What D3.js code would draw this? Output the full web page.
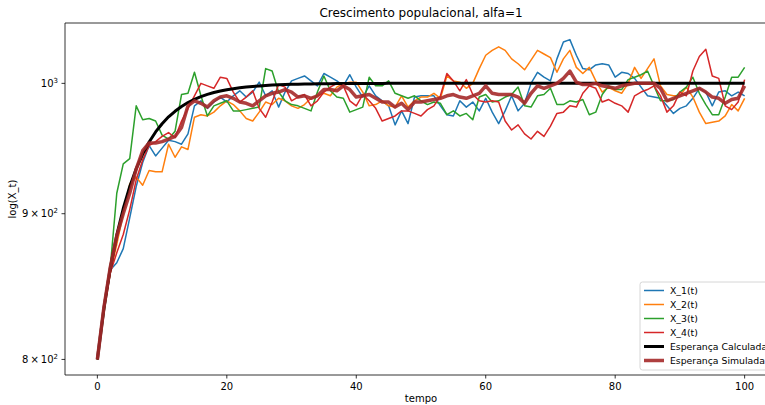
<!DOCTYPE html>
<meta charset="utf-8">
<style>
body { margin: 0; background: #fff; }
text { font-family: "DejaVu Sans", sans-serif; fill: #000; }
.serie { fill: none; stroke-width: 1.5px; stroke-linejoin: round; }
.spine { stroke: #000; stroke-width: 0.8px; fill: none; }
</style>
<svg width="765" height="405"></svg>
<script src="https://d3js.org/d3.v7.min.js"></script>
<script>

// t = 0..100
var tempo = d3.range(0, 101);

var x1 = [800, 832, 860, 865, 875, 897, 920, 938, 951, 943,
  949, 955, 954, 952, 960, 982, 986, 980, 985, 989,
  985, 990, 994, 989, 993, 1001, 990, 994, 981, 993,
  1002, 1004, 1006, 1002, 998, 1008, 1005, 1002, 998, 1007,
  997, 989, 998, 990, 986, 982, 967, 978, 968, 989,
  990, 990, 990, 982, 975, 974, 986, 981, 985, 978,
  988, 977, 968, 978, 990, 978, 984, 1000, 1009, 1005,
  1002, 1020, 1034, 1036, 1023, 1012, 1011, 1015, 1016, 1015,
  1005, 1009, 1008, 1004, 997, 990, 989, 988, 982, 976,
  980, 982, 988, 996, 993, 982, 993, 994, 990, 993,
  990];

var x2 = [800, 833, 858, 878, 900, 922, 927, 921, 932, 931,
  931, 952, 942, 950, 948, 973, 975, 974, 977, 982,
  986, 983, 978, 972, 970, 977, 985, 983, 988, 986,
  982, 980, 983, 988, 990, 992, 990, 997, 1000, 1001,
  1001, 993, 982, 983, 986, 982, 981, 990, 981, 986,
  989, 989, 992, 988, 1006, 1002, 1001, 996, 1000, 1012,
  1023, 1027, 1030, 1027, 1020, 1016, 1011, 1019, 1027, 1024,
  1021, 1009, 1020, 1027, 1013, 1008, 1013, 1002, 993, 997,
  994, 992, 1000, 1013, 1004, 1012, 1020, 998, 991, 990,
  990, 997, 989, 977, 968, 969, 970, 974, 983, 978,
  988];

var x3 = [800, 830, 862, 915, 937, 941, 982, 971, 972, 970,
  959, 956, 962, 991, 992, 1009, 990, 974, 982, 984,
  986, 978, 978, 979, 980, 981, 1012, 1010, 993, 986,
  983, 982, 980, 978, 993, 1006, 994, 989, 988, 977,
  979, 981, 1005, 998, 998, 1002, 992, 990, 988, 990,
  986, 983, 985, 984, 975, 978, 974, 976, 971, 989,
  991, 985, 986, 989, 991, 997, 982, 981, 990, 991,
  996, 983, 983, 986, 985, 987, 975, 977, 991, 998,
  995, 995, 1003, 1005, 1007, 1010, 998, 986, 986, 987,
  993, 997, 1005, 992, 983, 975, 975, 989, 1005, 1005,
  1013];

var x4 = [800, 833, 858, 872, 885, 903, 925, 940, 951, 954,
  958, 961, 957, 970, 980, 990, 1000, 998, 996, 1005,
  1004, 993, 985, 989, 994, 980, 973, 985, 999, 997,
  986, 989, 991, 982, 986, 993, 997, 1000, 998, 986,
  982, 991, 986, 980, 970, 972, 974, 978, 978, 976,
  974, 979, 982, 990, 1008, 1002, 994, 1003, 991, 986,
  985, 986, 985, 970, 963, 967, 960, 956, 962, 958,
  966, 976, 977, 982, 981, 992, 998, 996, 985, 987,
  984, 982, 977, 990, 993, 995, 998, 990, 977, 982,
  993, 990, 1010, 1022, 1028, 1006, 1004, 982, 979, 985,
  1003];

var espCalculada = [800, 833.4, 861.3, 884.5, 903.8, 919.9, 933.3, 944.4, 953.7, 961.5,
  967.9, 973.3, 977.7, 981.5, 984.6, 987.1, 989.3, 991.1, 992.6, 993.8,
  994.9, 995.7, 996.4, 997.0, 997.5, 997.9, 998.3, 998.6, 998.8, 999.0,
  999.2, 999.3, 999.4, 999.5, 999.6, 999.7, 999.7, 999.8, 999.8, 999.8,
  999.9, 999.9, 999.9, 999.9, 999.9, 1000, 1000, 1000, 1000, 1000,
  1000, 1000, 1000, 1000, 1000, 1000, 1000, 1000, 1000, 1000,
  1000, 1000, 1000, 1000, 1000, 1000, 1000, 1000, 1000, 1000,
  1000, 1000, 1000, 1000, 1000, 1000, 1000, 1000, 1000, 1000,
  1000, 1000, 1000, 1000, 1000, 1000, 1000, 1000, 1000, 1000,
  1000, 1000, 1000, 1000, 1000, 1000, 1000, 1000, 1000, 1000,
  1000];

var espSimulada = [800, 834, 862, 884, 900, 915, 933, 947, 953, 953,
  954, 956, 958, 965, 982, 986, 984, 981, 986, 989,
  990, 988, 985, 984, 982, 986, 990, 992, 993, 995,
  993, 989, 990, 988, 990, 995, 995, 994, 998, 995,
  989, 990, 991, 988, 985, 985, 981, 984, 979, 985,
  985, 986, 987, 988, 990, 991, 989, 988, 990, 992,
  998, 992, 991, 991, 991, 989, 984, 992, 998, 996,
  998, 1000, 1004, 1010, 1001, 999, 999, 1000, 998, 997,
  996, 998, 999, 1000, 1000, 1000, 1000, 996, 986, 988,
  990, 992, 994, 996, 993, 989, 988, 984, 987, 988,
  998];

var xTicks = [0, 20, 40, 60, 80, 100];
var yTicks = [800, 900, 1000];
var yTickLabels = [["8", "2"], ["9", "2"], ["", "3"]];

var series = [
  {nome: "X_1(t)", valores: x1, cor: "#1f77b4", largura: 1.5, op: 1},
  {nome: "X_2(t)", valores: x2, cor: "#ff7f0e", largura: 1.5, op: 1},
  {nome: "X_3(t)", valores: x3, cor: "#2ca02c", largura: 1.5, op: 1},
  {nome: "X_4(t)", valores: x4, cor: "#d62728", largura: 1.5, op: 1},
  {nome: "Esperança Calculada", valores: espCalculada, cor: "#000000", largura: 3, op: 1},
  {nome: "Esperança Simulada", valores: espSimulada, cor: "#a52a2a", largura: 3.5, op: 0.9}
];

// area do grafico em pixels
var pxEsq = 65, pxDir = 777, pxTopo = 23, pxBase = 375;

var svg = d3.select("svg");

var x = d3.scaleLinear().domain([-5, 105]).range([pxEsq, pxDir]);
var y = d3.scaleLog().domain([790, 1050]).range([pxBase, pxTopo]);

var line = d3.line()
  .x(function(d, i) { return x(tempo[i]); })
  .y(function(d) { return y(d); });

var plot = svg.append("g");

plot.selectAll("path.serie")
  .data(series)
  .enter().append("path")
    .attr("class", "serie")
    .attr("d", function(d) { return line(d.valores); })
    .style("stroke", function(d) { return d.cor; })
    .style("stroke-width", function(d) { return d.largura; })
    .style("stroke-opacity", function(d) { return d.op; });

// moldura (a direita fica fora da imagem)
svg.append("path")
  .attr("class", "spine")
  .attr("d", "M" + pxEsq + "," + pxBase + "V" + pxTopo + "H" + pxDir + "V" + pxBase + "Z");

// eixo x
var xAxis = svg.append("g");
xAxis.selectAll("line")
  .data(xTicks)
  .enter().append("line")
    .attr("x1", function(d) { return x(d); })
    .attr("x2", function(d) { return x(d); })
    .attr("y1", pxBase)
    .attr("y2", pxBase + 3.5)
    .style("stroke", "#000")
    .style("stroke-width", 0.8);
xAxis.selectAll("text")
  .data(xTicks)
  .enter().append("text")
    .attr("x", function(d) { return x(d); })
    .attr("y", pxBase + 15)
    .attr("text-anchor", "middle")
    .style("font-size", "10px")
    .text(function(d) { return d; });

// eixo y (log)
var yAxis = svg.append("g");
yAxis.selectAll("line")
  .data(yTicks)
  .enter().append("line")
    .attr("x1", pxEsq - 3.5)
    .attr("x2", pxEsq)
    .attr("y1", function(d) { return y(d); })
    .attr("y2", function(d) { return y(d); })
    .style("stroke", "#000")
    .style("stroke-width", 0.8);

var yLab = yAxis.selectAll("text")
  .data(yTicks)
  .enter().append("text")
    .attr("x", pxEsq - 7)
    .attr("y", function(d) { return y(d) + 3.5; })
    .attr("text-anchor", "end")
    .style("font-size", "10px");
yLab.each(function(d, i) {
  var t = d3.select(this);
  var lab = yTickLabels[i];
  t.append("tspan").text(lab[0] === "" ? "10" : lab[0] + "\u2009\u00d7\u200910");
  t.append("tspan").attr("dy", -4).style("font-size", "7px").text(lab[1]);
});

// titulos
svg.append("text")
  .attr("x", (pxEsq + pxDir) / 2)
  .attr("y", 17)
  .attr("text-anchor", "middle")
  .style("font-size", "12px")
  .text("Crescimento populacional, alfa=1");

svg.append("text")
  .attr("x", (pxEsq + pxDir) / 2)
  .attr("y", 402)
  .attr("text-anchor", "middle")
  .style("font-size", "10px")
  .text("tempo");

svg.append("text")
  .attr("transform", "translate(16," + ((pxTopo + pxBase) / 2) + ") rotate(-90)")
  .attr("text-anchor", "middle")
  .style("font-size", "10px")
  .text("log(X_t)");

// legenda
var leg = svg.append("g").attr("transform", "translate(640,282)");
leg.append("rect")
  .attr("width", 140)
  .attr("height", 88)
  .attr("rx", 2.5)
  .style("fill", "#fff")
  .style("fill-opacity", 0.8)
  .style("stroke", "#cccccc")
  .style("stroke-width", 0.8);

var item = leg.selectAll("g.item")
  .data(series)
  .enter().append("g")
    .attr("class", "item")
    .attr("transform", function(d, i) { return "translate(0," + (8.5 + i * 14) + ")"; });
item.append("line")
  .attr("x1", 4).attr("x2", 24)
  .style("stroke", function(d) { return d.cor; })
  .style("stroke-width", function(d) { return d.largura; })
  .style("stroke-opacity", function(d) { return d.op; });
item.append("text")
  .attr("x", 30)
  .attr("y", 3.5)
  .style("font-size", "9.3px")
  .text(function(d) { return d.nome; });

</script>
